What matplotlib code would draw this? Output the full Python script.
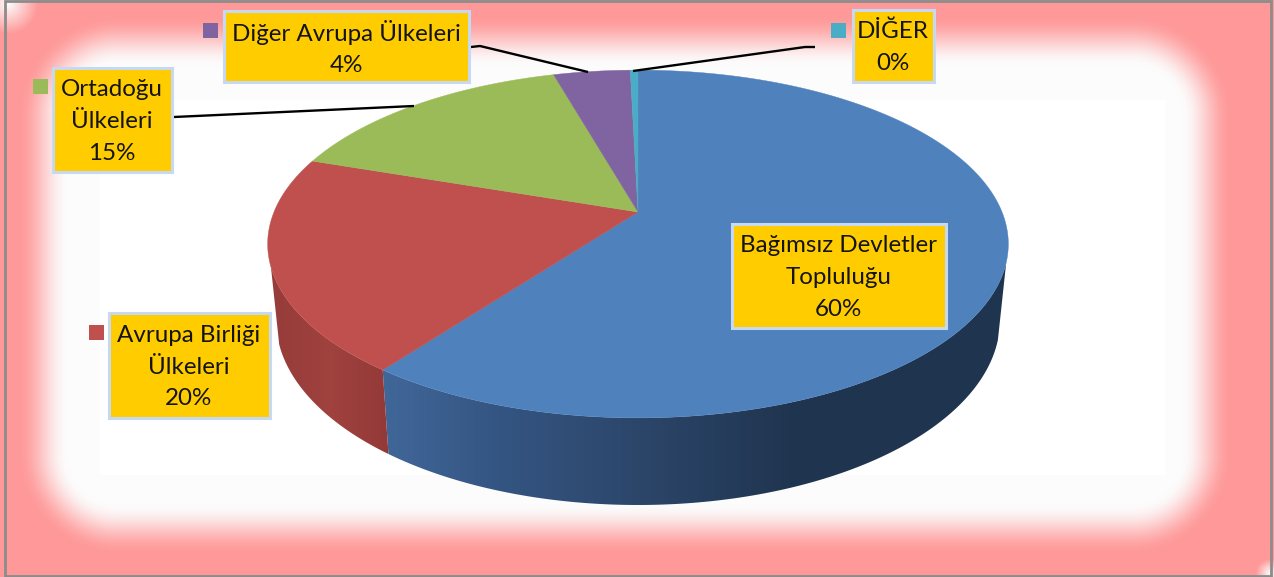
"""Export mix as a perspective 3D pie on a pink-framed panel."""

import matplotlib

matplotlib.use("Agg")
import matplotlib.pyplot as plt
import numpy as np
from matplotlib.patches import Polygon, Rectangle

categories = ["Bağımsız Devletler\nTopluluğu", "Avrupa Birliği\nÜlkeleri",
              "Ortadoğu\nÜlkeleri", "Diğer Avrupa Ülkeleri", "DİĞER"]
shares = [60.2, 20.0, 15.4, 4.0, 0.4]
pct_labels = ["60%", "20%", "15%", "4%", "0%"]
colors = ["#4F81BD", "#C0504D", "#9BBB59", "#8064A2", "#4BACC6"]

W, H = 1274, 577
CX = 638
TILT = 0.184
TOP = dict(y0=212, a=168, b=364)
BOT = dict(y0=286, a=178.7, b=355.8)
# where the side wall meets the silhouette, as pie fractions
WALL_FROM, WALL_TO = 0.296, 0.70

# side wall shading, by screen x
wall_stops = {
    0: ([389, 500, 640, 800, 1010],
        [(64, 102, 152), (52, 85, 130), (44, 70, 106), (31, 52, 78), (31, 52, 78)]),
    1: ([275, 330, 392], [(150, 60, 58), (160, 66, 62), (146, 57, 55)]),
}


def rim(frac, y0, a, b):
    """Map pie fraction (clockwise from top) through the perspective."""
    t = 2 * np.pi * np.asarray(frac)
    u, v = np.sin(t), np.cos(t)
    w = 1 + TILT * v
    return CX + b * u / w, y0 - a * v / w


def background(ax):
    xx, yy = np.meshgrid(np.arange(W) + 0.5, np.arange(H) + 0.5)
    # rounded-box distance from the white centre
    r = 50
    qx = np.abs(xx - 625) - (557 - r)
    qy = np.abs(yy - 285) - (219 - r)
    d = np.hypot(np.maximum(qx, 0), np.maximum(qy, 0)) - r
    t = np.clip(d / 50, 0, 1)
    t = t * t * (3 - 2 * t)
    # white glow in the two corners of the frame
    for corner, radius in [((8, 4), 30), ((1270, 573), 14)]:
        dist = np.hypot(xx - corner[0], yy - corner[1])
        t = t * np.clip(dist / radius, 0, 1)
    img = np.ones((H, W, 3))
    # the pure white block sits inside a barely grey margin
    outer = (xx < 100) | (xx > 1165) | (yy < 100) | (yy > 475)
    img[outer] = 252 / 255
    img[..., 0] = img[..., 0] + t * (1 - img[..., 0])
    img[..., 1] = img[..., 1] + t * (153 / 255 - img[..., 1])
    img[..., 2] = img[..., 2] + t * (153 / 255 - img[..., 2])
    ax.imshow(img, extent=(0, W, H, 0), aspect="auto", zorder=0)
    ax.add_patch(Rectangle((5, 1), 1265.5, 574.5, fc="none", ec="#8C8C8C",
                           lw=2, zorder=1))


def draw_pie(ax):
    edges = np.cumsum([0] + shares) / sum(shares)
    # front wall first, the top face covers whatever is left behind it
    for i, (xs, rgb) in wall_stops.items():
        fr = np.linspace(max(edges[i], WALL_FROM), min(edges[i + 1], WALL_TO), 200)
        xt, yt = rim(fr, **TOP)
        xb, yb = rim(fr, **BOT)
        outline = Polygon(np.c_[np.r_[xt, xb[::-1]], np.r_[yt, yb[::-1]]],
                          transform=ax.transData, fc="none", ec="none")
        ax.add_patch(outline)
        px = np.arange(W) + 0.5
        rgb = np.array(rgb, dtype=float) / 255
        grad = np.stack([np.interp(px, xs, rgb[:, c]) for c in range(3)], axis=-1)
        im = ax.imshow(grad[np.newaxis, :, :], extent=(0, W, H, 0), aspect="auto",
                       zorder=2)
        im.set_clip_path(outline)
    for i, color in enumerate(colors):
        fr = np.linspace(edges[i], edges[i + 1], max(8, int(shares[i] * 6)))
        x, y = rim(fr, **TOP)
        ax.fill(np.r_[CX, x], np.r_[TOP["y0"], y], fc=color, ec=color, lw=0.3,
                zorder=3)


def draw_labels(ax):
    boxes = [(730, 222, 947, 329), (107, 311, 271, 419), (51, 66, 173, 173),
             (222, 9, 470, 83), (851, 8, 935, 83)]
    keys = [None, (89, 325), (33, 79), (203, 23), (831, 23)]
    for i, (x0, y0, x1, y1) in enumerate(boxes):
        ax.add_patch(Rectangle((x0 + 1.5, y0 + 1.5), x1 - x0 - 3, y1 - y0 - 3,
                               fc="#FFCC00", ec="#C6D9F1", lw=2.2, zorder=5))
        ax.text(0.5 * (x0 + x1), 0.5 * (y0 + y1) + 2,
                f"{categories[i]}\n{pct_labels[i]}", ha="center", va="center",
                fontsize=17.4, family="Lato", color="#141414", linespacing=1.63,
                zorder=6)
        if keys[i]:
            ax.add_patch(Rectangle(keys[i], 14.5, 14.5, fc=colors[i], ec="none",
                                   zorder=5))
    leaders = [([174, 414], [117, 106]),
               ([471, 480, 588], [47, 46, 72]),
               ([815, 805, 633], [47, 47, 71])]
    for xs, ys in leaders:
        ax.plot(xs, ys, color="black", lw=1.7, zorder=4, solid_capstyle="butt")


fig = plt.figure(figsize=(W / 100, H / 100), dpi=100)
ax = fig.add_axes([0, 0, 1, 1])
background(ax)
draw_pie(ax)
draw_labels(ax)
ax.set_xlim(0, W)
ax.set_ylim(H, 0)
ax.axis("off")
fig.savefig("out.png", dpi=100)
plt.close(fig)
